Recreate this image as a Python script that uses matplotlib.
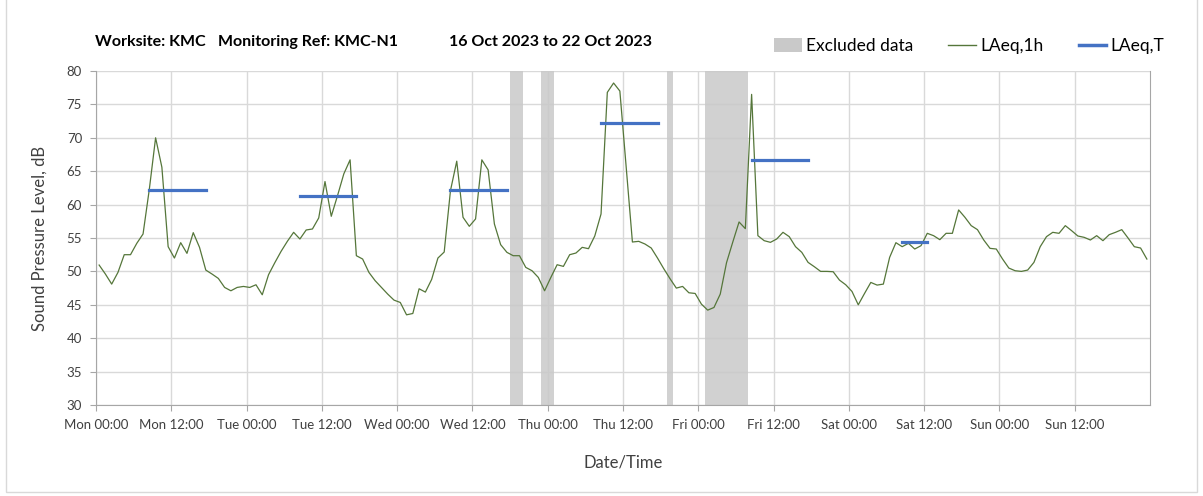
import matplotlib
matplotlib.use("Agg")
import matplotlib.pyplot as plt
import numpy as np
from matplotlib.lines import Line2D
from matplotlib.patches import Patch, Rectangle

plt.rcParams["font.family"] = ["Lato", "DejaVu Sans"]

# hourly LAeq,1h values, one list per day (hour 00 .. 23)
mon = [50.95, 49.6, 48.1, 49.85, 52.5, 52.5, 54.2, 55.6, 62.3, 70.0, 65.6, 53.7,
       52.0, 54.3, 52.7, 55.8, 53.6, 50.2, 49.6, 48.95, 47.6, 47.1, 47.6, 47.75]
tue = [47.6, 48.0, 46.5, 49.5, 51.3, 53.0, 54.5, 55.85, 54.85, 56.2, 56.35, 58.0,
       63.45, 58.25, 61.35, 64.6, 66.7, 52.35, 51.85, 49.85, 48.6, 47.6, 46.6, 45.7]
wed = [45.35, 43.5, 43.7, 47.4, 46.9, 48.8, 52.0, 52.9, 62.1, 66.5, 58.1, 56.75,
       57.85, 66.7, 65.2, 57.1, 54.0, 52.85, 52.35, 52.35, 50.6, 50.1, 49.1, 47.1]
thu = [49.1, 51.0, 50.75, 52.5, 52.75, 53.6, 53.4, 55.3, 58.6, 76.8, 78.2, 77.0,
       65.6, 54.4, 54.5, 54.1, 53.5, 52.0, 50.4, 48.9, 47.5, 47.75, 46.8, 46.7]
fri = [45.1, 44.2, 44.6, 46.6, 51.3, 54.4, 57.4, 56.4, 76.5, 55.35, 54.6, 54.35,
       54.85, 55.85, 55.2, 53.7, 52.85, 51.35, 50.7, 50.0, 50.0, 49.95, 48.7, 48.0]
sat = [47.0, 45.0, 46.7, 48.35, 47.95, 48.1, 52.1, 54.3, 53.7, 54.2, 53.35, 53.85,
       55.7, 55.35, 54.75, 55.7, 55.7, 59.2, 58.1, 56.85, 56.25, 54.7, 53.45, 53.35]
sun = [51.85, 50.5, 50.1, 50.0, 50.2, 51.35, 53.7, 55.2, 55.85, 55.7, 56.85, 56.1,
       55.3, 55.1, 54.7, 55.35, 54.6, 55.5, 55.85, 56.25, 55.0, 53.7, 53.5, 51.85]

# excluded periods, hours from Mon 00:00
excluded_start = [66, 71, 91, 97]
excluded_end = [68, 73, 92, 104]

# LAeq,T per day: day index, first and last hour, level
laeqt_day = [0, 1, 2, 3, 4, 5]
laeqt_first_hour = [8, 8, 8, 8, 8, 8]
laeqt_last_hour = [17, 17, 17, 17, 17, 12]
laeqt_value = [62.25, 61.35, 62.25, 72.25, 66.75, 54.4]

tick_labels = ["Mon 00:00", "Mon 12:00", "Tue 00:00", "Tue 12:00", "Wed 00:00",
               "Wed 12:00", "Thu 00:00", "Thu 12:00", "Fri 00:00", "Fri 12:00",
               "Sat 00:00", "Sat 12:00", "Sun 00:00", "Sun 12:00"]

GREEN = "#55763a"
BLUE = "#4472c4"
BAND = "#c9c9c9"
AXIS = "#a6a6a6"

W, H = 1203, 496
fig = plt.figure(figsize=(W / 100, H / 100), dpi=100)
ax = fig.add_axes([96 / W, 1 - 405 / H, (1150 - 96) / W, (405 - 71) / H])

laeq_1h = np.concatenate([mon, tue, wed, thu, fri, sat, sun])
hours = np.arange(len(laeq_1h)) + 0.5

for s, e in zip(excluded_start, excluded_end):
    ax.axvspan(s, e, color=BAND, alpha=0.85, lw=0, zorder=1)

ax.plot(hours, laeq_1h, color=GREEN, lw=0.9, zorder=3)

for d, a, b, v in zip(laeqt_day, laeqt_first_hour, laeqt_last_hour, laeqt_value):
    ax.plot([d * 24 + a + 0.5, d * 24 + b + 0.5], [v, v], color=BLUE, lw=2.3,
            solid_capstyle="projecting", zorder=4)

ax.set_xlim(0, 168)
ax.set_ylim(30, 80)
ax.set_xticks(np.arange(0, 168, 12))
ax.set_xticklabels(tick_labels)
ax.set_yticks(np.arange(30, 81, 5))
ax.set_axisbelow(True)
ax.grid(color="#d9d9d9", lw=1)

ax.spines["top"].set_visible(False)
for side in ["left", "bottom", "right"]:
    ax.spines[side].set_color(AXIS)
ax.tick_params(direction="out", length=4, color=AXIS, labelsize=9.5,
               labelcolor="#404040")
ax.tick_params(axis="y", pad=6)
ax.tick_params(axis="x", pad=6)

ax.set_ylabel("Sound Pressure Level, dB", fontsize=12, color="#404040", labelpad=14)
ax.set_xlabel("Date/Time", fontsize=12, color="#404040", labelpad=17)

title_y = 1 - 42 / H
fig.text(95 / W, title_y, "Worksite: KMC", fontsize=11.5, fontweight="bold", va="center")
fig.text(218 / W, title_y, "Monitoring Ref: KMC-N1", fontsize=11.5, fontweight="bold", va="center")
fig.text(449 / W, title_y, "16 Oct 2023 to 22 Oct 2023", fontsize=11.5, fontweight="bold", va="center")

handles = [Patch(facecolor=BAND, edgecolor="none"),
           Line2D([], [], color=GREEN, lw=1),
           Line2D([], [], color=BLUE, lw=2.5)]
fig.legend(handles, ["Excluded data", "LAeq,1h", "LAeq,T"], ncol=3, loc="center right",
           bbox_to_anchor=(1180 / W, 1 - 46 / H), frameon=False, fontsize=12.5,
           handlelength=1.6, handleheight=0.8, columnspacing=2.0, handletextpad=0.25)

fig.patches.append(Rectangle((6 / W, 4 / H), (1197 - 6) / W, 1.0, transform=fig.transFigure,
                             fill=False, edgecolor="#d9d9d9", lw=1))

fig.savefig("out.png", dpi=100)
